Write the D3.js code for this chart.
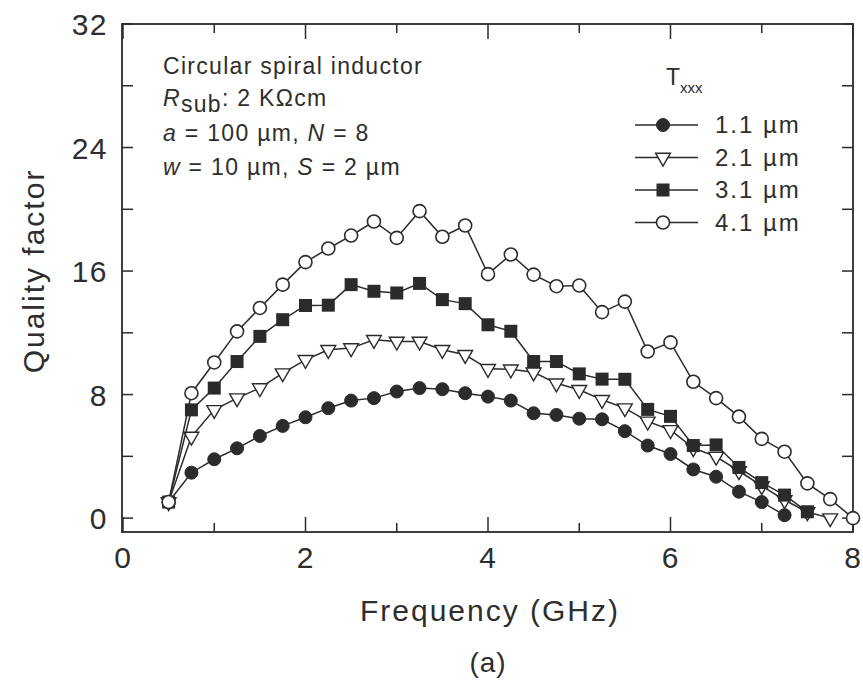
<!DOCTYPE html>
<html><head><meta charset="utf-8">
<script src="https://cdn.jsdelivr.net/npm/d3@7/dist/d3.min.js"></script>
<style>
body{margin:0;background:#fff;}
svg text{font-family:"Liberation Sans",Arial,Helvetica,sans-serif;fill:#2e2e2e;}
</style></head>
<body><svg id="chart" width="863" height="685"></svg>
<script>
const freq = [0.5,0.75,1.0,1.25,1.5,1.75,2.0,2.25,2.5,2.75,3.0,3.25,3.5,3.75,4.0,4.25,4.5,4.75,5.0,5.25,5.5,5.75,6.0,6.25,6.5,6.75,7.0,7.25,7.5,7.75,8.0];
const q11 = [1.04,2.94,3.81,4.52,5.32,5.97,6.53,7.12,7.61,7.77,8.20,8.42,8.35,8.09,7.87,7.61,6.79,6.68,6.44,6.40,5.63,4.70,4.15,3.15,2.68,1.71,1.04,0.19];
const q21 = [1.04,5.28,7.01,7.77,8.42,9.39,10.25,10.90,11.01,11.55,11.44,11.44,10.90,10.58,9.67,9.64,9.44,8.73,8.31,7.66,7.12,6.26,5.71,4.54,3.98,3.05,2.08,1.17,0.39,0.0];
const q31 = [1.04,7.01,8.42,10.14,11.77,12.85,13.77,13.79,15.12,14.69,14.58,15.20,14.15,13.89,12.52,12.10,10.14,10.14,9.34,9.00,8.99,7.04,6.59,4.70,4.74,3.28,2.30,1.49,0.41];
const q41 = [1.04,8.09,10.08,12.09,13.61,15.12,16.58,17.46,18.30,19.21,18.15,19.88,18.22,18.95,15.80,17.07,15.77,15.02,15.06,13.34,14.02,10.79,11.38,8.83,7.77,6.57,5.13,4.30,2.25,1.23,0.0];
const seriesNames = ["1.1 \u00b5m","2.1 \u00b5m","3.1 \u00b5m","4.1 \u00b5m"];
const seriesMarkers = ["filledCircle","openTriangle","filledSquare","openCircle"];
const xTicksMajor = [0,2,4,6,8];
const xTicksMinor = [1,3,5,7];
const yTicksMajor = [0,8,16,24,32];
const yTicksMinor = [4,12,20,28];

const allSeries = [q11,q21,q31,q41];
const ink = "#2b2b2b";
const svg = d3.select("#chart");
const x = d3.scaleLinear().domain([0,8]).range([123,853]);
const y = d3.scaleLinear().domain([-0.9,32]).range([532,24]);

// frame
svg.append("rect").attr("x",122).attr("y",24).attr("width",853-122).attr("height",532-24)
  .attr("fill","none").attr("stroke",ink).attr("stroke-width",1.8);

// ticks (inward on all sides)
const tk = svg.append("g").attr("stroke",ink).attr("stroke-width",1.5);
function xTick(v,len){
  tk.append("line").attr("x1",x(v)).attr("x2",x(v)).attr("y1",532).attr("y2",532-len);
  tk.append("line").attr("x1",x(v)).attr("x2",x(v)).attr("y1",24).attr("y2",24+len);
}
function yTick(v,len){
  tk.append("line").attr("y1",y(v)).attr("y2",y(v)).attr("x1",122).attr("x2",122+len);
  tk.append("line").attr("y1",y(v)).attr("y2",y(v)).attr("x1",853).attr("x2",853-len);
}
xTicksMajor.forEach(v=>xTick(v,15));
xTicksMinor.forEach(v=>xTick(v,9));
yTicksMajor.forEach(v=>yTick(v,11));
yTicksMinor.forEach(v=>yTick(v,11));

// tick labels
svg.append("g").selectAll("text").data(xTicksMajor).join("text")
  .attr("x",d=>x(d)).attr("y",568).attr("text-anchor","middle")
  .attr("font-size",30).attr("letter-spacing",1).text(d=>d);
svg.append("g").selectAll("text").data(yTicksMajor).join("text")
  .attr("x",108).attr("y",d=>y(d)+11).attr("text-anchor","end")
  .attr("font-size",30).attr("letter-spacing",1.5).text(d=>d);

// axis titles
svg.append("text").attr("x",490).attr("y",621).attr("text-anchor","middle")
  .attr("font-size",30).attr("letter-spacing",2).text("Frequency (GHz)");
svg.append("text").attr("transform","translate(44,271) rotate(-90)").attr("text-anchor","middle")
  .attr("font-size",30).attr("letter-spacing",2).text("Quality factor");
svg.append("text").attr("x",488).attr("y",672).attr("text-anchor","middle")
  .attr("font-size",28).attr("letter-spacing",1).text("(a)");

// annotation
const ann = svg.append("g").attr("font-size",23).attr("letter-spacing",1.3);
ann.append("text").attr("x",163).attr("y",74).text("Circular spiral inductor");
const t2 = ann.append("text").attr("x",163).attr("y",106);
t2.append("tspan").attr("font-style","italic").text("R");
t2.append("tspan").attr("dy",6).text("sub");
t2.append("tspan").attr("dy",-6).text(": 2 K\u03a9cm");
const t3 = ann.append("text").attr("x",163).attr("y",141);
t3.append("tspan").attr("font-style","italic").text("a");
t3.append("tspan").text(" = 100 \u00b5m, ");
t3.append("tspan").attr("font-style","italic").text("N");
t3.append("tspan").text(" = 8");
const t4 = ann.append("text").attr("x",163).attr("y",175);
t4.append("tspan").attr("font-style","italic").text("w");
t4.append("tspan").text(" = 10 \u00b5m, ");
t4.append("tspan").attr("font-style","italic").text("S");
t4.append("tspan").text(" = 2 \u00b5m");

// marker drawer
function marker(g, kind, cx, cy){
  if(kind==="filledCircle"){
    g.append("circle").attr("cx",cx).attr("cy",cy).attr("r",6.5).attr("fill",ink).attr("stroke",ink).attr("stroke-width",1);
  } else if(kind==="openCircle"){
    g.append("circle").attr("cx",cx).attr("cy",cy).attr("r",6.5).attr("fill","#fff").attr("stroke",ink).attr("stroke-width",1.6);
  } else if(kind==="filledSquare"){
    g.append("rect").attr("x",cx-6.5).attr("y",cy-6.5).attr("width",13).attr("height",13).attr("fill",ink);
  } else {
    g.append("path").attr("d",d3.symbol(d3.symbolTriangle,95)()).attr("transform",`translate(${cx},${cy}) rotate(180)`)
      .attr("fill","#fff").attr("stroke",ink).attr("stroke-width",1.4);
  }
}

// series
const line = d3.line().x(d=>x(d[0])).y(d=>y(d[1]));
allSeries.forEach((vals,i)=>{
  const pts = vals.map((v,j)=>[freq[j],v]);
  const g = svg.append("g");
  g.append("path").attr("d",line(pts)).attr("fill","none").attr("stroke",ink).attr("stroke-width",1.5);
  pts.forEach(p=>marker(g,seriesMarkers[i],x(p[0]),y(p[1])));
});

// legend
const lg = svg.append("g");
const tl = lg.append("text").attr("x",666).attr("y",85).attr("font-size",23);
tl.append("tspan").text("T");
tl.append("tspan").attr("dy",8).attr("font-size",15).text("xxx");
seriesNames.forEach((n,i)=>{
  const cy = 125 + i*32.5;
  lg.append("line").attr("x1",635).attr("x2",698).attr("y1",cy).attr("y2",cy).attr("stroke",ink).attr("stroke-width",1.5);
  marker(lg,seriesMarkers[i],663,cy);
  lg.append("text").attr("x",715).attr("y",cy+8).attr("font-size",24).attr("letter-spacing",2).text(n);
});
</script></body></html>
